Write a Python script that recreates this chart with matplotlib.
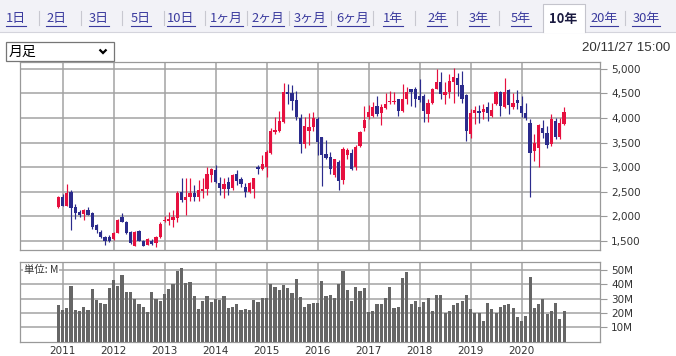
import matplotlib
matplotlib.use('Agg')
import matplotlib.pyplot as plt
from matplotlib.patches import Rectangle
import numpy as np
import pandas as pd

plt.rcParams['font.family'] = ['DejaVu Sans', 'Noto Sans CJK JP']

# ---------------- data ----------------
months = [str(p) for p in pd.period_range('2010-12', periods=120, freq='M')]

opens = [2187, 2400, 2220, 2487, 2200, 2087, 2053, 2133, 2067, 1820, 1687, 1587,
         1587, 1533, 1667, 1987, 1887, 1687, 1400, 1707, 1507, 1420, 1507, 1453,
         1573, 1900, 1910, 1920, 1960, 2500, 2323, 2390, 2484, 2403, 2520, 2551,
         2840, 2941, 2672, 2551, 2706, 2571, 2860, 2753, 2605, 2504, 2566, 3008,
         2954, 3008, 3290, 3707, 3727, 3915, 4534, 4500, 4366, 3996, 3465, 3734,
         3810, 3979, 3609, 3266, 3206, 2850, 3105, 2735, 3253, 3293, 3004, 3428,
         3790, 4012, 4046, 4234, 4100, 4200, 4328, 4315, 4382, 4147, 4382, 4583,
         4583, 4449, 4449, 4079, 4301, 4597, 4730, 4459, 4527, 4730, 4818, 4662,
         4459, 3668, 4094, 4142, 4121, 4229, 4040, 4277, 4527, 4229, 4567, 4229,
         4365, 4243, 4094, 3905, 3330, 3398, 3803, 3702, 3465, 3939, 3621, 3871]
highs = [2420, 2453, 2667, 2533, 2253, 2120, 2153, 2187, 2087, 1853, 1720, 1600,
         1620, 1687, 1953, 2067, 1900, 1700, 1700, 1733, 1520, 1553, 1533, 1600,
         1880, 2000, 2090, 2120, 2520, 2770, 2773, 2773, 2638, 2739, 2773, 3008,
         2988, 3042, 2807, 2773, 2807, 2854, 2941, 2807, 2672, 2706, 2780, 3042,
         3243, 3344, 3794, 4016, 4137, 4702, 4688, 4675, 4554, 4083, 4016, 4097,
         4126, 4012, 3620, 3542, 3307, 3172, 3139, 3407, 3387, 3360, 3441, 3743,
         4247, 4261, 4328, 4449, 4281, 4516, 4550, 4530, 4395, 4684, 4637, 4597,
         4637, 4785, 4483, 4382, 4617, 4987, 4932, 4730, 4885, 5020, 4919, 4953,
         4480, 4175, 4243, 4256, 4277, 4324, 4310, 4547, 4547, 4817, 4580, 4500,
         4567, 4446, 4310, 3972, 3668, 3871, 3959, 3837, 4074, 4006, 4006, 4229]
lows = [2170, 2207, 2210, 1720, 1953, 1987, 1920, 2020, 1753, 1653, 1553, 1420,
        1487, 1520, 1653, 1880, 1640, 1440, 1390, 1490, 1390, 1410, 1420, 1385,
        1560, 1880, 1820, 1790, 1880, 2300, 2035, 2303, 2303, 2303, 2370, 2437,
        2706, 2672, 2437, 2370, 2437, 2538, 2638, 2605, 2403, 2484, 2370, 2860,
        2940, 2807, 3277, 3680, 3714, 3895, 4285, 4164, 3949, 3297, 3398, 3445,
        3743, 3239, 2620, 3172, 2870, 2803, 2534, 2668, 3172, 2937, 2937, 3407,
        3743, 3979, 4012, 4046, 3858, 4180, 4281, 4281, 4046, 4113, 4281, 4247,
        4214, 4315, 3925, 3925, 4281, 4583, 4392, 4277, 4412, 4297, 4446, 4310,
        3533, 3601, 3871, 3905, 3972, 3939, 4027, 4256, 4040, 4209, 4074, 4175,
        4175, 4027, 3959, 2384, 3128, 3013, 3601, 3398, 3432, 3567, 3580, 3851]
closes = [2387, 2220, 2467, 2173, 2067, 2033, 2120, 2033, 1787, 1720, 1587, 1507,
          1507, 1667, 1920, 1887, 1653, 1453, 1687, 1507, 1400, 1533, 1433, 1573,
          1840, 1935, 1950, 1990, 2480, 2330, 2403, 2484, 2390, 2538, 2557, 2860,
          2954, 2706, 2571, 2659, 2551, 2840, 2726, 2659, 2504, 2672, 2770, 2954,
          3062, 3310, 3727, 3747, 3929, 4534, 4487, 4352, 4016, 3465, 3828, 3814,
          4000, 3508, 3253, 3186, 2957, 3159, 2722, 3360, 3340, 2971, 3407, 3723,
          3965, 4113, 4214, 4079, 4214, 4274, 4348, 4348, 4147, 4382, 4530, 4530,
          4382, 4368, 4147, 4301, 4597, 4731, 4480, 4527, 4750, 4838, 4662, 4378,
          3736, 4108, 4162, 4094, 4175, 4094, 4162, 4527, 4243, 4527, 4256, 4310,
          4297, 4108, 4006, 3297, 3500, 3851, 3702, 3445, 3986, 3621, 3891, 4121]
volumes_m = [25.6, 22.1, 23.7, 38.8, 22.1, 21.4, 24.2, 22.1, 36.7, 29.1, 27.2, 26.3,
             37.4, 43.0, 38.8, 46.5, 34.7, 34.7, 30.0, 26.3, 24.2, 20.7, 34.7, 30.0,
             28.4, 33.3, 36.7, 40.2, 49.5, 51.2, 40.7, 41.6, 31.9, 22.8, 28.4, 31.9,
             27.7, 30.0, 29.3, 31.9, 23.5, 24.2, 26.3, 22.1, 22.8, 22.1, 29.1, 27.7,
             30.5, 30.5, 40.2, 38.1, 36.3, 39.5, 37.4, 34.0, 43.7, 31.2, 24.2, 26.3,
             27.0, 27.0, 42.3, 31.9, 32.6, 30.2, 40.0, 49.5, 36.0, 28.4, 38.1, 35.3,
             37.4, 20.7, 21.4, 26.3, 26.3, 30.5, 38.1, 23.5, 24.2, 44.4, 48.6, 26.3,
             28.4, 24.2, 27.7, 30.5, 21.4, 32.6, 32.6, 20.0, 21.4, 25.6, 27.0, 28.4,
             32.6, 22.8, 20.0, 20.0, 14.4, 27.0, 22.8, 20.0, 24.2, 25.6, 26.3, 23.5,
             17.2, 14.4, 17.9, 45.1, 23.5, 26.3, 30.0, 19.3, 21.4, 27.0, 15.8, 21.4]

price_ticks = [1500, 2000, 2500, 3000, 3500, 4000, 4500, 5000]
volume_ticks = [10, 20, 30, 40, 50]
tabs = ["1日", "2日", "3日", "5日", "10日", "1ヶ月", "2ヶ月", "3ヶ月", "6ヶ月",
        "1年", "2年", "3年", "5年", "10年", "20年", "30年"]
selected_tab = "10年"
period_label = "月足"
timestamp = "20/11/27 15:00"
unit_label = "単位: M"

# ---------------- styling ----------------
W, H = 676, 356
RED = '#e6103f'
BLUE = '#2b2b8c'
GRID = '#a3a3a3'
LINK = '#3b3b9e'

fig = plt.figure(figsize=(W / 100, H / 100), dpi=100)
fig.patch.set_facecolor('white')

# background (pixel coords) for the UI parts
bg = fig.add_axes([0, 0, 1, 1])
bg.set_xlim(0, W)
bg.set_ylim(H, 0)
bg.axis('off')

bg.add_patch(Rectangle((0, 0), W, 31.5, fc='#f2f2f7', ec='none'))
bg.plot([0, W], [31.5, 31.5], color='#d4d4dc', lw=0.8)

tab_x = [16, 56, 99, 141, 181, 226, 268, 310, 353, 393, 437, 479, 521, 563, 604, 646]
sep_x = [39, 81, 122, 164, 205, 247, 289, 331, 373, 415, 457, 499, 625]
for sx in sep_x:
    bg.plot([sx, sx], [11, 25], color='#c8c8d0', lw=0.8)

sel_i = tabs.index(selected_tab)
x0, x1 = 542.5, 584.5
bg.add_patch(Rectangle((x0, 4), x1 - x0, 28.5, fc='white', ec='none', zorder=2))
bg.plot([x0, x0, x1, x1], [32, 4, 4, 32], color='#c4c4cc', lw=0.8, zorder=3)

tab_texts = []
for i, (t, tx) in enumerate(zip(tabs, tab_x)):
    if i == sel_i:
        bg.text(tx, 18.5, t, ha='center', va='center', fontsize=9.3,
                fontweight='bold', color='#1a1a40', family=['Noto Sans CJK JP'], zorder=4)
    else:
        tt = bg.text(tx, 18.5, t, ha='center', va='center', fontsize=9.3,
                     color=LINK, family=['Noto Sans CJK JP'], zorder=4)
        tab_texts.append(tt)

# dropdown
bg.add_patch(Rectangle((6, 42), 108, 18.5, fc='white', ec='#767676', lw=0.9))
bg.text(9, 51.5, period_label, ha='left', va='center', fontsize=10,
        color='black', family=['Noto Sans CJK JP'])
bg.plot([99.5, 103, 106.5], [49.5, 53, 49.5], color='black', lw=1.6,
        solid_capstyle='butt', solid_joinstyle='miter')

bg.text(670, 48, timestamp, ha='right', va='center', fontsize=9.6,
        color='#333333', family=['Liberation Sans'])

# ---------------- price chart ----------------
x = np.arange(len(months))
year_idx = [i for i, m in enumerate(months) if m.endswith('-01')]
year_lbl = [months[i][:4] for i in year_idx]

o = np.array(opens, float)
h = np.array(highs, float)
l = np.array(lows, float)
c = np.array(closes, float)
cols = np.where(c >= o, RED, BLUE)

ax = fig.add_axes([20 / W, 1 - 250 / H, 580 / W, 188.5 / H])
ax.set_xlim(-9.0, 127.46)
ax.set_ylim(1317, 5147)
ax.vlines(x, l, h, colors=cols, lw=0.85, zorder=3)
ax.bar(x, np.maximum(np.abs(c - o), 14), 0.74, bottom=np.minimum(o, c),
       color=cols, zorder=4, linewidth=0)
ax.set_yticks(price_ticks)
ax.set_yticklabels([f"{v:,}" for v in price_ticks])
ax.yaxis.tick_right()
ax.tick_params(axis='y', length=5, width=0.8, color='#999999', labelsize=7.5,
               labelcolor='#333333', pad=3)
ax.set_xticks(year_idx)
ax.tick_params(axis='x', length=0, labelbottom=False)
ax.grid(True, color=GRID, lw=1.1)
ax.set_axisbelow(True)
for s in ax.spines.values():
    s.set_color('#999999')
    s.set_linewidth(0.9)

# ---------------- volume chart ----------------
av = fig.add_axes([20 / W, 1 - 342 / H, 580 / W, 80 / H])
av.set_xlim(-9.0, 127.46)
av.set_ylim(-0.2, 55.6)
av.bar(x, volumes_m, 0.72, color='#666666', zorder=3, linewidth=0)
av.set_yticks(volume_ticks)
av.set_yticklabels([f"{v}M" for v in volume_ticks])
av.yaxis.tick_right()
av.tick_params(axis='y', length=5, width=0.8, color='#999999', labelsize=7.5,
               labelcolor='#333333', pad=3)
av.set_xticks(year_idx)
av.set_xticklabels(year_lbl)
av.tick_params(axis='x', length=0, labelsize=7.5, labelcolor='#333333', pad=3)
av.grid(True, color=GRID, lw=1.1)
av.set_axisbelow(True)
for s in av.spines.values():
    s.set_color('#999999')
    s.set_linewidth(0.9)
av.text(0.007, 0.9, unit_label, transform=av.transAxes, ha='left', va='center',
        fontsize=7.5, color='#333333', family=['Noto Sans CJK JP', 'DejaVu Sans'],
        bbox=dict(fc='white', ec='none', pad=0.5), zorder=6)

# underline the link tabs
fig.canvas.draw()
r = fig.canvas.get_renderer()
inv = bg.transData.inverted()
for tt in tab_texts:
    bb = tt.get_window_extent(r)
    (ax0, ay0), (ax1, ay1) = inv.transform([[bb.x0, bb.y0], [bb.x1, bb.y1]])
    bg.plot([ax0, ax1], [25.5, 25.5], color=LINK, lw=0.8, zorder=4)

fig.savefig('out.png', dpi=100)
